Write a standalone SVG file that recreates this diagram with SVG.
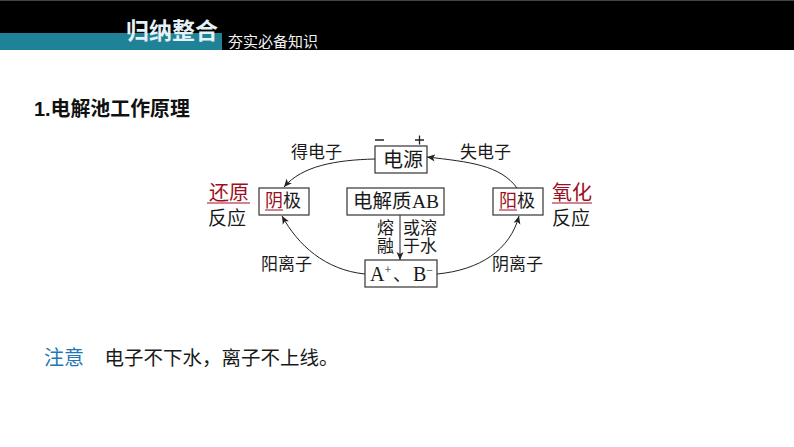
<svg xmlns="http://www.w3.org/2000/svg" width="794" height="447" viewBox="0 0 794 447">
<style>
text{font-family:"Liberation Serif","Noto Sans CJK SC",serif;fill:#1a1a1a}
.s{font-family:"Liberation Sans","Noto Sans CJK SC",sans-serif}
.l{font-size:17px}
.b{font-size:18px}
.r{fill:#9c0f22}
.box{fill:#fff;stroke:#333;stroke-width:1.2}
.c{fill:none;stroke:#222;stroke-width:1}
</style>
<defs><marker id="a" markerWidth="9" markerHeight="8" refX="8" refY="4" orient="auto" markerUnits="userSpaceOnUse"><path d="M0 .5L8 4L0 7.5L2 4z" fill="#222"/></marker></defs>
<rect width="794" height="447" fill="#fff"/>
<g id="header">
<rect width="794" height="50" fill="#000"/>
<rect width="794" height="1" fill="#444"/>
<rect x="0" y="33" width="222" height="17" fill="#1f8296"/>
<text class="s" x="126" y="39" font-size="23" font-weight="700" style="fill:#e4f1f6">归纳整合</text>
<text class="s" x="228" y="47" font-size="15" style="fill:#f2f2f2">夯实必备知识</text>
</g>
<text id="title" class="s" x="34" y="116" font-size="19.900" font-weight="700" style="fill:#111">1.电解池工作原理</text>
<g id="connectors">
<path class="c" marker-end="url(#a)" d="M375 159C335 160 302 166 284 187"/>
<path class="c" marker-end="url(#a)" d="M517 188C500 165 470 162 427 157"/>
<path class="c" marker-end="url(#a)" d="M365 274C325 270 298 245 282 216"/>
<path class="c" marker-end="url(#a)" d="M437 274C480 270 510 250 519 216"/>
<path class="c" marker-end="url(#a)" d="M400 215V260"/>
</g>
<g id="power">
<rect class="box" x="375" y="146" width="52" height="27"/>
<text x="383" y="167" font-size="20">电源</text>
<path d="M375 140H384M415 140H424M419.500 135.500V144.500" stroke="#222" stroke-width="1.300" fill="none"/>
</g>
<g id="cathode">
<rect class="box" x="259" y="188" width="50" height="27"/>
<text class="b" x="265" y="207"><tspan class="r">阴</tspan>极</text>
<path d="M265 210H283" stroke="#9c0f22" fill="none"/>
</g>
<g id="electrolyte">
<rect class="box" x="347" y="188" width="97" height="27"/>
<text x="353" y="208" font-size="19.500">电解质<tspan x="412">A</tspan><tspan x="426">B</tspan></text>
</g>
<g id="anode">
<rect class="box" x="493" y="188" width="50" height="27"/>
<text class="b" x="499" y="207"><tspan class="r">阳</tspan>极</text>
<path d="M499 210H517" stroke="#9c0f22" fill="none"/>
</g>
<g id="ions">
<rect class="box" x="365" y="260" width="72" height="27"/>
<text x="370" y="281" font-size="20">A<tspan font-size="12" dy="-7">+</tspan><tspan dy="7" x="393" font-size="18">、</tspan><tspan x="413">B</tspan><tspan font-size="12" dy="-7">−</tspan></text>
</g>
<g id="labels">
<text class="l" x="291" y="158">得电子</text>
<text class="l" x="460" y="158">失电子</text>
<text class="l" x="261" y="270">阳离子</text>
<text class="l" x="492" y="270">阴离子</text>
<text class="l" x="377" y="234">熔</text>
<text class="l" x="377" y="252">融</text>
<text class="l" x="403" y="234">或溶</text>
<text class="l" x="403" y="252">于水</text>
</g>
<g id="reduction">
<text class="r" x="209" y="200" font-size="20">还原</text>
<path d="M207 203H250" stroke="#9c0f22" stroke-width="1"/>
<text x="208" y="225" font-size="19">反应</text>
</g>
<g id="oxidation">
<text class="r" x="552" y="200" font-size="20">氧化</text>
<path d="M552 203H592" stroke="#9c0f22" stroke-width="1"/>
<text x="552" y="225" font-size="19">反应</text>
</g>
<g id="note">
<text class="s" x="44" y="365" font-size="20" style="fill:#1f78b4">注意</text>
<text class="s" x="104.500" y="365" font-size="19.500" style="fill:#1a1a1a">电子不下水，离子不上线。</text>
</g>
</svg>
